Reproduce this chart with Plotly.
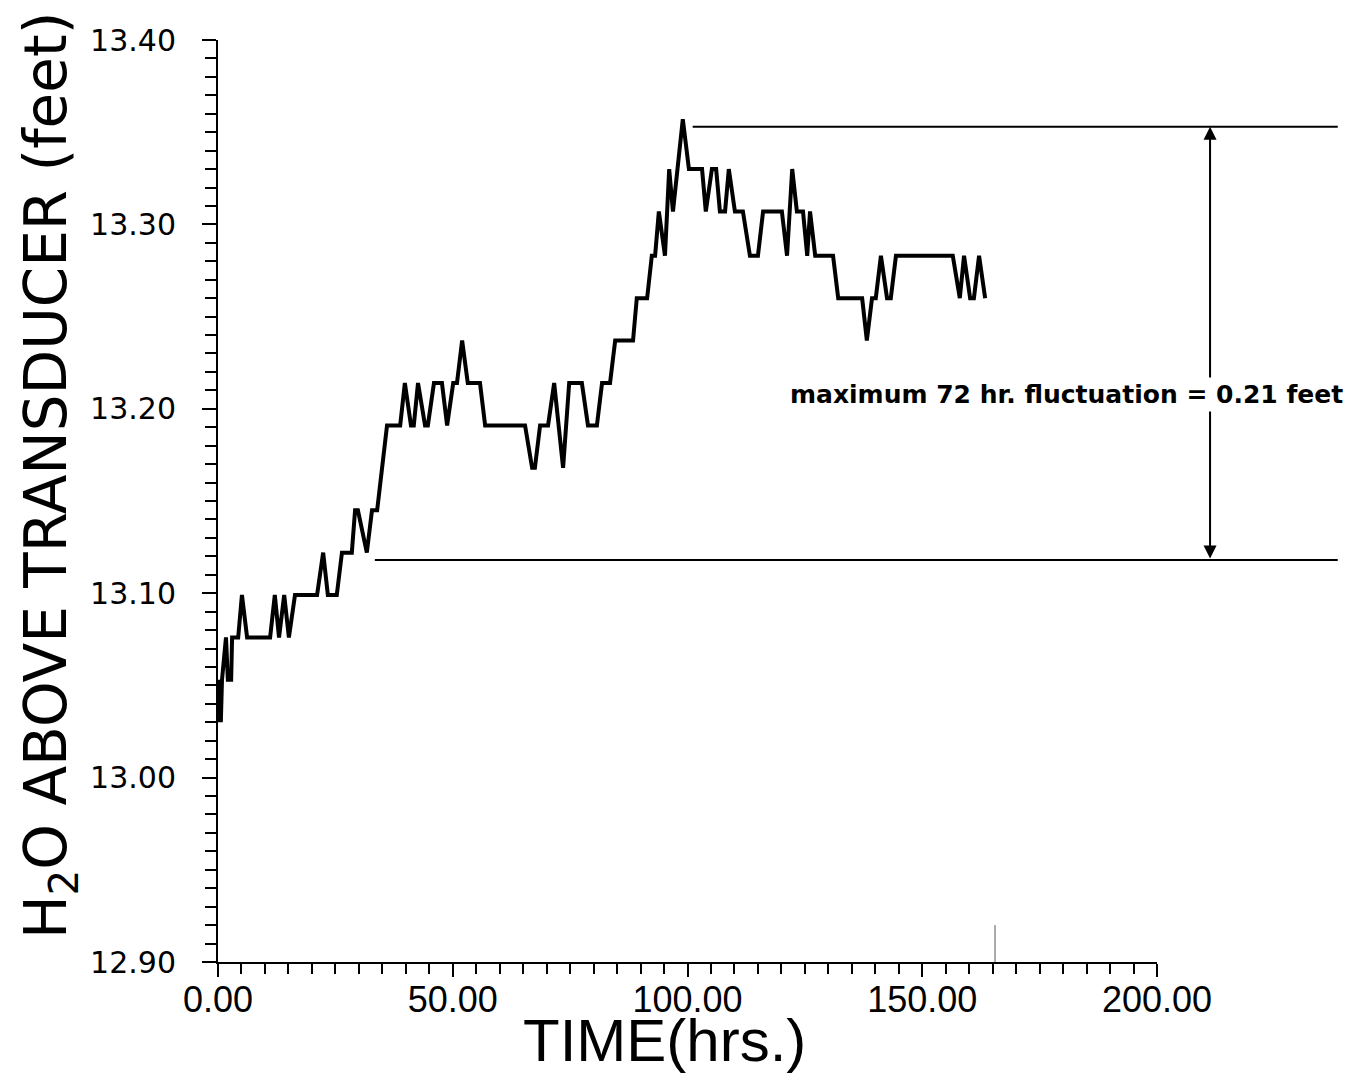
import plotly.graph_objects as go

# ---- data ----
time_hrs = [
    0.0, 0.2, 0.4, 0.6, 0.85, 1.7, 2.1, 2.8, 3.0, 4.3,
    5.1, 6.2, 11.1, 12.1, 13.0, 14.1, 15.1, 16.4, 21.1, 22.4,
    23.4, 25.3, 26.4, 28.5, 29.2, 29.8, 31.7, 32.8, 33.9, 36.0,
    38.8, 39.8, 41.1, 41.7, 42.6, 44.1, 44.7, 46.0, 47.7, 48.8,
    50.1, 50.9, 52.0, 53.2, 55.8, 56.9, 65.4, 66.9, 67.5, 68.6,
    70.3, 71.6, 73.5, 74.8, 77.5, 78.8, 80.7, 81.8, 83.5, 84.6,
    88.4, 89.2, 91.4, 92.4, 93.1, 93.9, 95.2, 96.1, 96.9, 99.0,
    100.3, 103.1, 103.9, 105.2, 106.1, 106.9, 108.0, 108.8, 110.1, 111.8,
    113.3, 115.0, 116.1, 120.1, 121.2, 122.3, 123.3, 124.6, 125.5, 126.1,
    127.2, 131.0, 132.1, 137.2, 138.2, 139.3, 140.1, 141.2, 142.5, 143.3,
    144.4, 156.5, 158.0, 158.9, 160.2, 161.0, 162.1, 163.4,
]
h2o_ft = [
    13.053, 13.030, 13.053, 13.030, 13.053, 13.076, 13.053, 13.053, 13.076, 13.076,
    13.099, 13.076, 13.076, 13.099, 13.076, 13.099, 13.076, 13.099, 13.099, 13.122,
    13.099, 13.099, 13.122, 13.122, 13.145, 13.145, 13.122, 13.145, 13.145, 13.191,
    13.191, 13.214, 13.191, 13.191, 13.214, 13.191, 13.191, 13.214, 13.214, 13.191,
    13.214, 13.214, 13.237, 13.214, 13.214, 13.191, 13.191, 13.168, 13.168, 13.191,
    13.191, 13.214, 13.168, 13.214, 13.214, 13.191, 13.191, 13.214, 13.214, 13.237,
    13.237, 13.260, 13.260, 13.283, 13.283, 13.307, 13.283, 13.330, 13.307, 13.357,
    13.330, 13.330, 13.307, 13.330, 13.330, 13.307, 13.307, 13.330, 13.307, 13.307,
    13.283, 13.283, 13.307, 13.307, 13.283, 13.330, 13.307, 13.307, 13.283, 13.307,
    13.283, 13.283, 13.260, 13.260, 13.237, 13.260, 13.260, 13.283, 13.260, 13.260,
    13.283, 13.283, 13.260, 13.283, 13.260, 13.260, 13.283, 13.260,
]

x_range = [0, 200]
y_range = [12.90, 13.40]
x_tickvals = [0, 50, 100, 150, 200]
y_tickvals = [12.90, 13.00, 13.10, 13.20, 13.30, 13.40]

# reference lines of the fluctuation annotation (hrs, feet)
upper_level = 13.353
lower_level = 13.118
upper_start_hr = 101.1
lower_start_hr = 33.4
lines_end_hr = 238.5
arrow_hr = 211.3
note_text = "<b>maximum 72 hr. fluctuation = 0.21 feet</b>"
note_left_hr = 121.2
note_level = 13.2075


def xd(h):
    return (h - x_range[0]) / (x_range[1] - x_range[0])


def yd(v):
    return (v - y_range[0]) / (y_range[1] - y_range[0])


fig = go.Figure()
fig.add_trace(go.Scatter(
    x=time_hrs, y=h2o_ft, mode="lines",
    line=dict(color="black", width=4),
    showlegend=False, hoverinfo="skip",
))

thin_font = "DejaVu Sans ExtraLight, DejaVu Sans, sans-serif"
narrow_font = "Liberation Sans Narrow, Liberation Sans, Arial, sans-serif"

fig.update_layout(
    width=1359, height=1068,
    margin=dict(l=210, r=210, t=32, b=114),
    paper_bgcolor="white", plot_bgcolor="white",
    showlegend=False,
)
fig.update_xaxes(
    range=x_range, tickvals=x_tickvals, tickformat=".2f",
    showgrid=False, zeroline=False,
    showline=True, linecolor="black", linewidth=2,
    ticks="outside", ticklen=13, tickwidth=2, tickcolor="black",
    minor=dict(dtick=5, ticks="outside", ticklen=10, tickwidth=2, tickcolor="black", showgrid=False),
    tickfont=dict(family=narrow_font, size=36, color="black"),
    ticklabelstandoff=-8,
)
fig.update_yaxes(
    range=y_range, tickvals=y_tickvals, tickformat=".2f",
    showgrid=False, zeroline=False,
    showline=True, linecolor="black", linewidth=2,
    ticks="outside", ticklen=14, tickwidth=2, tickcolor="black",
    minor=dict(dtick=0.01, ticks="outside", ticklen=11, tickwidth=2, tickcolor="black", showgrid=False),
    tickfont=dict(family=thin_font, size=30, color="black"),
    ticklabelstandoff=20,
)

# horizontal reference lines
fig.add_shape(type="line", xref="x domain", yref="y domain",
              x0=xd(upper_start_hr), x1=xd(lines_end_hr),
              y0=yd(upper_level), y1=yd(upper_level),
              line=dict(color="black", width=2))
fig.add_shape(type="line", xref="x domain", yref="y domain",
              x0=xd(lower_start_hr), x1=xd(lines_end_hr),
              y0=yd(lower_level), y1=yd(lower_level),
              line=dict(color="black", width=2))
# stray vertical mark near the bottom axis
fig.add_shape(type="line", xref="x domain", yref="y domain",
              x0=xd(165.5), x1=xd(165.5), y0=0, y1=yd(12.92),
              line=dict(color="#555", width=1))

# double-headed arrow
fig.add_annotation(
    xref="x domain", yref="y domain", axref="x domain", ayref="y domain",
    x=xd(arrow_hr), y=yd(upper_level), ax=xd(arrow_hr), ay=yd(lower_level),
    text="", showarrow=True, arrowhead=2, startarrowhead=2,
    arrowside="end+start", arrowsize=1.3, arrowwidth=2, arrowcolor="black",
    standoff=0, startstandoff=0,
)
# annotation text
fig.add_annotation(
    xref="x domain", yref="y domain", x=xd(note_left_hr), y=yd(note_level),
    xanchor="left", yanchor="middle", showarrow=False, text=note_text,
    font=dict(family="DejaVu Sans, sans-serif", size=25, color="black"),
    bgcolor="white", borderpad=2,
)
# axis titles
fig.add_annotation(
    xref="x domain", yref="paper", x=0.476, y=-0.085,
    xanchor="center", yanchor="middle", showarrow=False,
    text="TIME(hrs.)",
    font=dict(family=narrow_font, size=60, color="black"),
)
fig.add_annotation(
    xref="paper", yref="paper", x=-0.179, y=0.528,
    xanchor="center", yanchor="middle", showarrow=False, textangle=-90,
    text="H<sub>2</sub>O ABOVE TRANSDUCER (feet)",
    font=dict(family=thin_font, size=58, color="black"),
)

fig.write_html("out.html")
